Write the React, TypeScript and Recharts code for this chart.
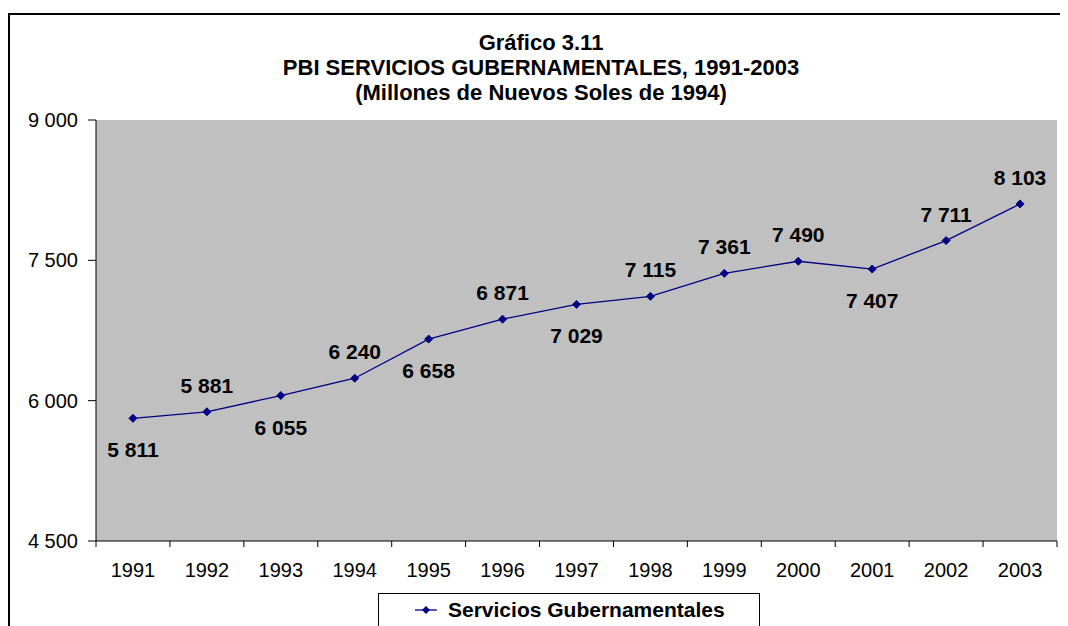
import { LineChart, Line, XAxis, YAxis, CartesianGrid, LabelList } from 'recharts';

const years = ['1991', '1992', '1993', '1994', '1995', '1996', '1997', '1998', '1999', '2000', '2001', '2002', '2003'];
const pbiServicios = [5811, 5881, 6055, 6240, 6658, 6871, 7029, 7115, 7361, 7490, 7407, 7711, 8103];
const labelSide = ['below', 'above', 'below', 'above', 'below', 'above', 'below', 'above', 'above', 'above', 'below', 'above', 'above'];
const yTicks = [4500, 6000, 7500, 9000];

const data = years.map((year, i) => ({ year, value: pbiServicios[i] }));

const FONT = "Arial, 'Liberation Sans', sans-serif";
const W = 1060;
const H = 618;
const margin = { top: 112, right: 11, left: 0, bottom: 45 };
const Y_AXIS_W = 88;
const band = (W - margin.right - Y_AXIS_W) / years.length;

const fmt = (n: number) => String(n).replace(/\B(?=(\d{3})+(?!\d))/g, ' ');

const YearTick = ({ x, y, payload, index }: any) => (
  <g>
    <line x1={x - band / 2} y1={y} x2={x - band / 2} y2={y + 6} stroke="#000" />
    {index === years.length - 1 && (
      <line x1={x + band / 2} y1={y} x2={x + band / 2} y2={y + 6} stroke="#000" />
    )}
    <text x={x} y={y + 36} textAnchor="middle" fontSize={20} fontFamily={FONT} fill="#000">
      {payload.value}
    </text>
  </g>
);

const Diamond = ({ cx, cy }: any) => {
  if (cx == null || cy == null) return null;
  const r = 4;
  return (
    <polygon
      points={`${cx},${cy - r} ${cx + r},${cy} ${cx},${cy + r} ${cx - r},${cy}`}
      fill="#000080"
      stroke="#000080"
    />
  );
};

const ValueLabel = ({ x, y, value, index }: any) => {
  const dy = labelSide[index] === 'above' ? -19 : 39;
  return (
    <text x={x} y={y + dy} textAnchor="middle" fontSize={21} fontWeight="bold" fontFamily={FONT} fill="#000">
      {fmt(value)}
    </text>
  );
};

export default function App() {
  return (
    <div style={{ position: 'relative', width: W, height: H, overflow: 'hidden', fontFamily: FONT }}>
      <div
        style={{
          position: 'absolute',
          left: 0,
          top: 5,
          width: 1059,
          height: 700,
          borderTop: '2px solid #000',
          borderLeft: '2px solid #000',
          boxSizing: 'border-box',
        }}
      />
      <div
        style={{
          position: 'absolute',
          left: 0,
          top: 22,
          width: 1066,
          textAlign: 'center',
          fontWeight: 'bold',
          fontSize: 22,
          lineHeight: '25px',
          color: '#000',
        }}
      >
        <div>Gráfico 3.11</div>
        <div>PBI SERVICIOS GUBERNAMENTALES, 1991-2003</div>
        <div>(Millones de Nuevos Soles de 1994)</div>
      </div>

      <LineChart width={W} height={H} data={data} margin={margin} style={{ position: 'absolute', left: 0, top: 0 }}>
        <CartesianGrid horizontal={false} vertical={false} fill="#C0C0C0" fillOpacity={1} />
        <XAxis
          dataKey="year"
          height={40}
          padding={{ left: band / 2, right: band / 2 }}
          tickSize={0}
          tickMargin={0}
          tickLine={false}
          axisLine={{ stroke: '#000' }}
          tick={<YearTick />}
          interval={0}
        />
        <XAxis xAxisId="top" dataKey="year" orientation="top" height={0} tick={false} tickLine={false} axisLine={{ stroke: '#808080' }} />
        <YAxis
          width={Y_AXIS_W}
          domain={[4500, 9000]}
          ticks={yTicks}
          tickFormatter={fmt}
          tickSize={8}
          tickMargin={10}
          axisLine={{ stroke: '#000' }}
          tickLine={{ stroke: '#000' }}
          tick={{ fill: '#000', fontSize: 20, fontFamily: FONT }}
          interval={0}
        />
        <YAxis yAxisId="right" orientation="right" width={0} domain={[4500, 9000]} tick={false} tickLine={false} axisLine={{ stroke: '#808080' }} />
        <Line
          type="linear"
          dataKey="value"
          stroke="#000080"
          strokeWidth={1.3}
          dot={<Diamond />}
          activeDot={false}
          isAnimationActive={false}
        >
          <LabelList dataKey="value" content={<ValueLabel />} />
        </Line>
      </LineChart>

      <div
        style={{
          position: 'absolute',
          left: 370,
          top: 585,
          width: 382,
          height: 40,
          border: '1px solid #000',
          boxSizing: 'border-box',
          background: '#fff',
          display: 'flex',
          alignItems: 'flex-start',
          paddingTop: 3,
          lineHeight: '25px',
        }}
      >
        <svg width={22} height={25} style={{ marginLeft: 36, flex: 'none' }}>
          <line x1={0} y1={13} x2={22} y2={13} stroke="#000080" strokeWidth={1.3} />
          <polygon points="11,9 15,13 11,17 7,13" fill="#000080" />
        </svg>
        <span style={{ marginLeft: 11, fontWeight: 'bold', fontSize: 21, color: '#000' }}>Servicios Gubernamentales</span>
      </div>
    </div>
  );
}
